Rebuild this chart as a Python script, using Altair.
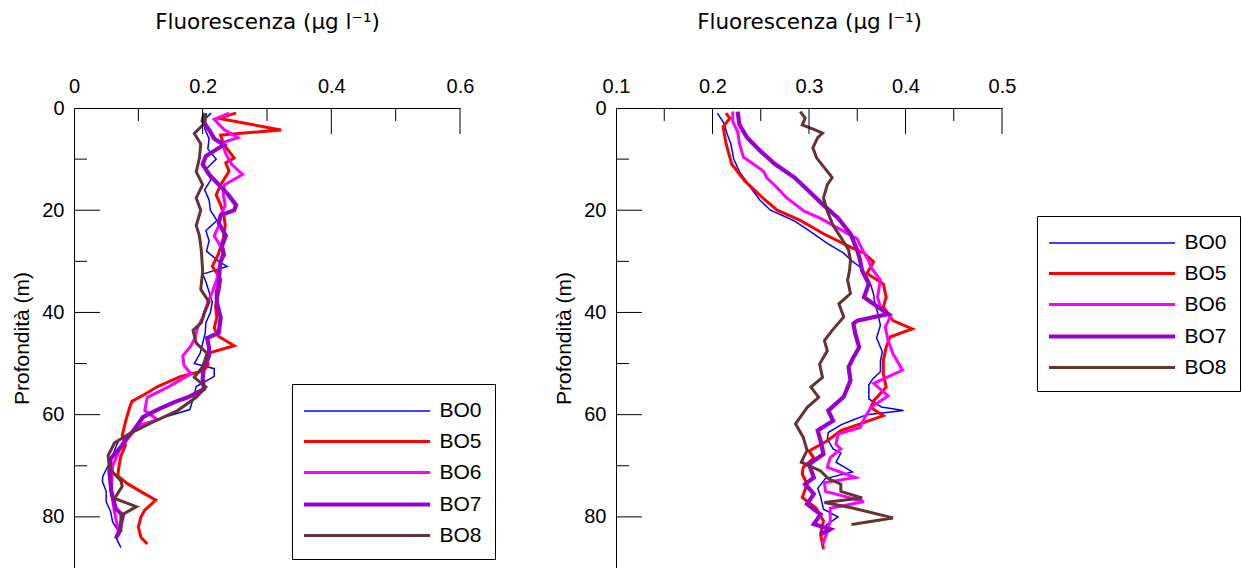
import altair as alt
import pandas as pd

series = ["BO0", "BO5", "BO6", "BO7", "BO8"]
colors = ["#0000FF", "#FF0000", "#FF00FF", "#9900CC", "#663333"]
widths = [1.5, 3, 3, 4.2, 3]

# ---------------- Left panel ----------------
L_BO0_depth = [1, 2, 4, 6, 8, 10, 12, 14, 16, 18, 20, 22, 24, 26, 28, 30, 31, 32.5, 34, 36, 38, 40, 42, 44, 46, 48, 50, 51, 52.5, 54.5, 57, 59, 60.5, 62, 64, 65, 66, 68, 70, 72, 73, 75, 77, 79, 81, 83, 84, 86]
L_BO0_val = [0.213, 0.205, 0.203, 0.21, 0.208, 0.221, 0.205, 0.213, 0.203, 0.21, 0.212, 0.222, 0.205, 0.21, 0.206, 0.225, 0.238, 0.2, 0.205, 0.21, 0.215, 0.212, 0.205, 0.204, 0.2, 0.196, 0.187, 0.218, 0.218, 0.19, 0.185, 0.18, 0.14, 0.105, 0.085, 0.07, 0.066, 0.06, 0.053, 0.045, 0.044, 0.05, 0.05, 0.057, 0.06, 0.07, 0.065, 0.073]

L_BO5_depth = [1, 2, 4.3, 5.3, 7, 9.8, 10.7, 12.4, 15, 17, 19, 21, 23, 25.5, 28.7, 31, 33.5, 36, 38.7, 41, 43, 44.6, 46.5, 48, 50.4, 51.5, 52.5, 54.5, 56, 57.4, 58.8, 61.4, 64, 66, 68, 70, 72, 73.5, 75.5, 76.7, 78.7, 80, 82, 84, 85.3]
L_BO5_val = [0.252, 0.224, 0.322, 0.228, 0.232, 0.249, 0.236, 0.241, 0.228, 0.221, 0.228, 0.233, 0.235, 0.232, 0.224, 0.215, 0.228, 0.225, 0.22, 0.222, 0.218, 0.224, 0.249, 0.208, 0.208, 0.2, 0.166, 0.13, 0.11, 0.09, 0.086, 0.08, 0.075, 0.08, 0.073, 0.07, 0.068, 0.083, 0.11, 0.127, 0.11, 0.104, 0.1, 0.104, 0.114]

L_BO6_depth = [1, 2.2, 4.2, 5.8, 6.8, 9, 11, 13, 15, 17, 19, 21, 23, 25, 28, 31, 33.5, 36, 38, 41, 43, 45, 46.5, 48.5, 50.4, 52, 54.6, 56.6, 59.2, 61, 62, 64.4, 66.3, 70, 75, 78.4, 81, 83.6]
L_BO6_val = [0.241, 0.218, 0.233, 0.255, 0.23, 0.236, 0.245, 0.262, 0.234, 0.232, 0.235, 0.228, 0.225, 0.218, 0.232, 0.226, 0.222, 0.215, 0.208, 0.2, 0.192, 0.188, 0.182, 0.169, 0.171, 0.182, 0.146, 0.114, 0.11, 0.13, 0.104, 0.08, 0.073, 0.06, 0.058, 0.062, 0.066, 0.07]

L_BO7_depth = [1, 2.5, 4.3, 6, 7.2, 9.4, 11, 13, 15, 17, 19, 20, 21, 22.5, 25, 27, 28.7, 30, 32, 34.5, 36, 38, 41, 44, 45, 47, 48.5, 50.6, 53, 55, 56.6, 57.5, 59, 60.5, 62.5, 64.4, 66, 68.6, 71, 75, 78.4, 79.7, 83, 84.2]
L_BO7_val = [0.203, 0.2, 0.21, 0.218, 0.233, 0.205, 0.2, 0.21, 0.225, 0.24, 0.252, 0.249, 0.228, 0.225, 0.236, 0.23, 0.233, 0.228, 0.226, 0.225, 0.222, 0.222, 0.228, 0.225, 0.207, 0.21, 0.21, 0.202, 0.2, 0.202, 0.177, 0.157, 0.13, 0.107, 0.096, 0.084, 0.075, 0.057, 0.055, 0.058, 0.065, 0.076, 0.07, 0.065]

L_BO8_depth = [1, 3, 5, 7, 9.8, 12.5, 15, 17.6, 20, 23, 25, 28, 32, 35.5, 38, 40, 42, 43.5, 46, 48, 50.6, 52.7, 54.6, 56.6, 59.2, 61, 63.6, 65.5, 68, 70.5, 73, 74, 76.4, 78, 79.7, 83]
L_BO8_val = [0.205, 0.203, 0.187, 0.197, 0.195, 0.19, 0.2, 0.19, 0.197, 0.19, 0.195, 0.198, 0.2, 0.197, 0.21, 0.203, 0.198, 0.185, 0.19, 0.207, 0.2, 0.187, 0.205, 0.19, 0.161, 0.13, 0.088, 0.063, 0.053, 0.055, 0.073, 0.075, 0.063, 0.097, 0.073, 0.073]

# ---------------- Right panel ----------------
R_BO0_depth = [1, 3, 5, 7, 10, 12.5, 15.7, 18, 20, 22, 24, 26.5, 28.4, 30, 31.1, 33, 34.6, 36.5, 38, 40, 42.5, 45, 47.7, 49.5, 51.6, 53, 54.2, 56.9, 58.5, 59.2, 60, 61, 62, 63.5, 64.8, 66.7, 67.5, 69.3, 71.2, 72.5, 74.4, 76, 78.5, 80, 81.6, 83]
R_BO0_val = [0.205, 0.212, 0.215, 0.219, 0.222, 0.228, 0.24, 0.249, 0.26, 0.284, 0.3, 0.319, 0.336, 0.345, 0.353, 0.36, 0.364, 0.367, 0.368, 0.371, 0.374, 0.37, 0.376, 0.374, 0.374, 0.366, 0.362, 0.362, 0.375, 0.398, 0.36, 0.346, 0.333, 0.32, 0.319, 0.325, 0.333, 0.328, 0.345, 0.317, 0.309, 0.312, 0.315, 0.33, 0.318, 0.322]

R_BO5_depth = [1, 2, 3.7, 7, 11, 14.2, 17.6, 20, 22, 24.6, 27.2, 28.4, 30.1, 32.4, 34.4, 37, 38.9, 41.6, 43.2, 44.8, 46.8, 49.4, 52, 54.6, 57.3, 58.6, 60.2, 61.8, 63.1, 65.1, 67.1, 68.5, 70.3, 71.6, 73.6, 76.2, 78.2, 80.8, 83.4, 86.3]
R_BO5_val = [0.214, 0.218, 0.211, 0.214, 0.22, 0.233, 0.252, 0.267, 0.291, 0.315, 0.343, 0.357, 0.367, 0.36, 0.377, 0.38, 0.377, 0.387, 0.407, 0.384, 0.38, 0.377, 0.377, 0.38, 0.367, 0.364, 0.377, 0.353, 0.333, 0.319, 0.3, 0.305, 0.294, 0.293, 0.298, 0.293, 0.307, 0.315, 0.312, 0.315]

R_BO6_depth = [0.7, 2.6, 4.6, 7, 9.6, 12.4, 13.6, 15.6, 17.6, 20.2, 21.6, 23.5, 25.6, 28, 30, 31.1, 33.7, 37, 38.9, 40.9, 42.9, 45.5, 48.1, 51.3, 53.9, 56.3, 58.6, 60.5, 62.5, 63.8, 65.8, 66.7, 68.4, 70.3, 72.3, 73.3, 75, 77, 78.3, 80.8, 83.4, 85.4]
R_BO6_val = [0.221, 0.221, 0.226, 0.228, 0.232, 0.253, 0.256, 0.267, 0.277, 0.295, 0.312, 0.33, 0.35, 0.356, 0.362, 0.364, 0.374, 0.371, 0.374, 0.384, 0.379, 0.382, 0.387, 0.397, 0.367, 0.382, 0.364, 0.358, 0.353, 0.33, 0.328, 0.333, 0.322, 0.319, 0.348, 0.316, 0.317, 0.357, 0.322, 0.322, 0.318, 0.314]

R_BO7_depth = [0.7, 3.3, 5.8, 8.5, 11, 13.6, 16.3, 19, 21.5, 24.6, 27.8, 29.8, 31.8, 34.4, 37, 38.9, 40.3, 41.6, 42.2, 44.2, 46.8, 48.8, 50.7, 53.3, 56.5, 59.2, 61.2, 63.1, 65.1, 67.7, 69.7, 72.3, 73.6, 75.5, 77.5, 79.5, 81.4, 82.4, 83.4]
R_BO7_val = [0.226, 0.228, 0.236, 0.25, 0.265, 0.285, 0.3, 0.315, 0.33, 0.343, 0.35, 0.353, 0.355, 0.362, 0.357, 0.371, 0.382, 0.35, 0.346, 0.348, 0.352, 0.346, 0.341, 0.343, 0.336, 0.32, 0.325, 0.309, 0.312, 0.315, 0.3, 0.305, 0.296, 0.305, 0.298, 0.312, 0.305, 0.322, 0.312]

R_BO8_depth = [0.7, 2, 3.3, 4.2, 4.9, 5.8, 7.8, 9.8, 12.4, 13.6, 15, 17.6, 20.2, 23, 25.6, 27.8, 29.8, 31.8, 33.7, 36.3, 38.3, 40.9, 43.5, 45.5, 47.5, 50.1, 52.7, 54.6, 56.6, 58.6, 61.8, 64.4, 67, 69.3, 71, 72.5, 73.6, 75, 76.3, 77.2, 78.2, 80.2, 81.5]
R_BO8_val = [0.291, 0.296, 0.293, 0.305, 0.314, 0.309, 0.304, 0.308, 0.319, 0.324, 0.319, 0.315, 0.319, 0.325, 0.334, 0.341, 0.343, 0.342, 0.34, 0.343, 0.331, 0.336, 0.324, 0.316, 0.319, 0.311, 0.314, 0.302, 0.31, 0.298, 0.286, 0.294, 0.298, 0.292, 0.312, 0.32, 0.333, 0.333, 0.355, 0.316, 0.344, 0.387, 0.344]

# axis tick values
L_labels = [0, 0.2, 0.4, 0.6]
L_major = [0.2, 0.4, 0.6]
L_minor = [0.1, 0.3, 0.5]
R_labels = [0.1, 0.2, 0.3, 0.4, 0.5]
R_major = [0.2, 0.3, 0.4, 0.5]
R_minor = [0.15, 0.25, 0.35, 0.45]
Y_labels = [0, 20, 40, 60, 80]
Y_major = [20, 40, 60, 80]
Y_minor = [10, 30, 50, 70]

TITLE_X = "Fluorescenza (μg l⁻¹)"
TITLE_Y = "Profondità (m)"

left_data = {"BO0": (L_BO0_depth, L_BO0_val), "BO5": (L_BO5_depth, L_BO5_val),
             "BO6": (L_BO6_depth, L_BO6_val), "BO7": (L_BO7_depth, L_BO7_val),
             "BO8": (L_BO8_depth, L_BO8_val)}
right_data = {"BO0": (R_BO0_depth, R_BO0_val), "BO5": (R_BO5_depth, R_BO5_val),
              "BO6": (R_BO6_depth, R_BO6_val), "BO7": (R_BO7_depth, R_BO7_val),
              "BO8": (R_BO8_depth, R_BO8_val)}


def to_df(d):
    rows = []
    for s, (dep, val) in d.items():
        for i, (a, b) in enumerate(zip(dep, val)):
            rows.append({"series": s, "depth": a, "value": b, "idx": i})
    return pd.DataFrame(rows)


LABEL_FONT = "Liberation Sans"
TITLE_FONT = "DejaVu Sans"


def panel(d, xdomain, xlabels, xmajor, xminor, lx, ly):
    df = to_df(d)
    xscale = alt.Scale(domain=xdomain, nice=False, zero=False)
    yscale = alt.Scale(domain=[0, 90], reverse=True, nice=False, zero=False)
    legend = alt.Legend(orient="none", legendX=lx, legendY=ly, title=None,
                        symbolType="M-1,0H8.7", symbolSize=676, symbolOffset=-3.5,
                        labelFont=LABEL_FONT, labelFontSize=21, labelColor="black",
                        strokeColor="black", fillColor="white", padding=13,
                        rowPadding=6, labelOffset=107, labelLimit=0)
    xaxis = alt.Axis(orient="top", values=xlabels, format="~g", ticks=False,
                     grid=False, labelFlush=False, domainColor="black",
                     labelFont=LABEL_FONT, labelFontSize=20, labelColor="black",
                     labelPadding=12, title=TITLE_X, titleFont=TITLE_FONT,
                     titleFontSize=21.5, titleFontWeight="normal",
                     titleColor="black", titlePadding=43)
    yaxis = alt.Axis(values=Y_labels, format="d", ticks=False, grid=False,
                     labelFlush=False, domainColor="black",
                     labelFont=LABEL_FONT, labelFontSize=20, labelColor="black",
                     labelPadding=10, title=TITLE_Y, titleFont=LABEL_FONT,
                     titleFontSize=21, titleFontWeight="normal",
                     titleColor="black", titlePadding=9)
    lines = alt.Chart(df).mark_line().encode(
        x=alt.X("value:Q", scale=xscale, axis=xaxis),
        y=alt.Y("depth:Q", scale=yscale, axis=yaxis),
        color=alt.Color("series:N", scale=alt.Scale(domain=series, range=colors), legend=legend),
        strokeWidth=alt.StrokeWidth("series:N", scale=alt.Scale(type="ordinal", domain=series, range=widths), legend=legend),
        order=alt.Order("idx:Q"),
    )

    def xrules(vals, length):
        return alt.Chart(pd.DataFrame({"value": vals})).mark_rule(color="black", strokeWidth=1).encode(
            x=alt.X("value:Q", scale=xscale, axis=xaxis),
            y=alt.value(0), y2=alt.value(length))

    def yrules(vals, length):
        return alt.Chart(pd.DataFrame({"depth": vals})).mark_rule(color="black", strokeWidth=1).encode(
            y=alt.Y("depth:Q", scale=yscale, axis=yaxis),
            x=alt.value(0), x2=alt.value(length))

    return alt.layer(lines, xrules(xmajor, 26), xrules(xminor, 13),
                     yrules(Y_major, 26), yrules(Y_minor, 13)).properties(width=386, height=460)


left = panel(left_data, [0, 0.6], L_labels, L_major, L_minor, 218, 276)
right = panel(right_data, [0.1, 0.5], R_labels, R_major, R_minor, 421, 108)

chart = alt.hconcat(left, right, spacing=156, bounds="flush").resolve_scale(
    x="independent", y="independent", color="independent", strokeWidth="independent"
).resolve_legend(color="independent", strokeWidth="independent").properties(
    padding={"left": 11, "top": 11, "right": 0, "bottom": 0}
).configure_view(stroke=None)

chart.save("out.html", embed_options={"renderer": "svg", "actions": False})
